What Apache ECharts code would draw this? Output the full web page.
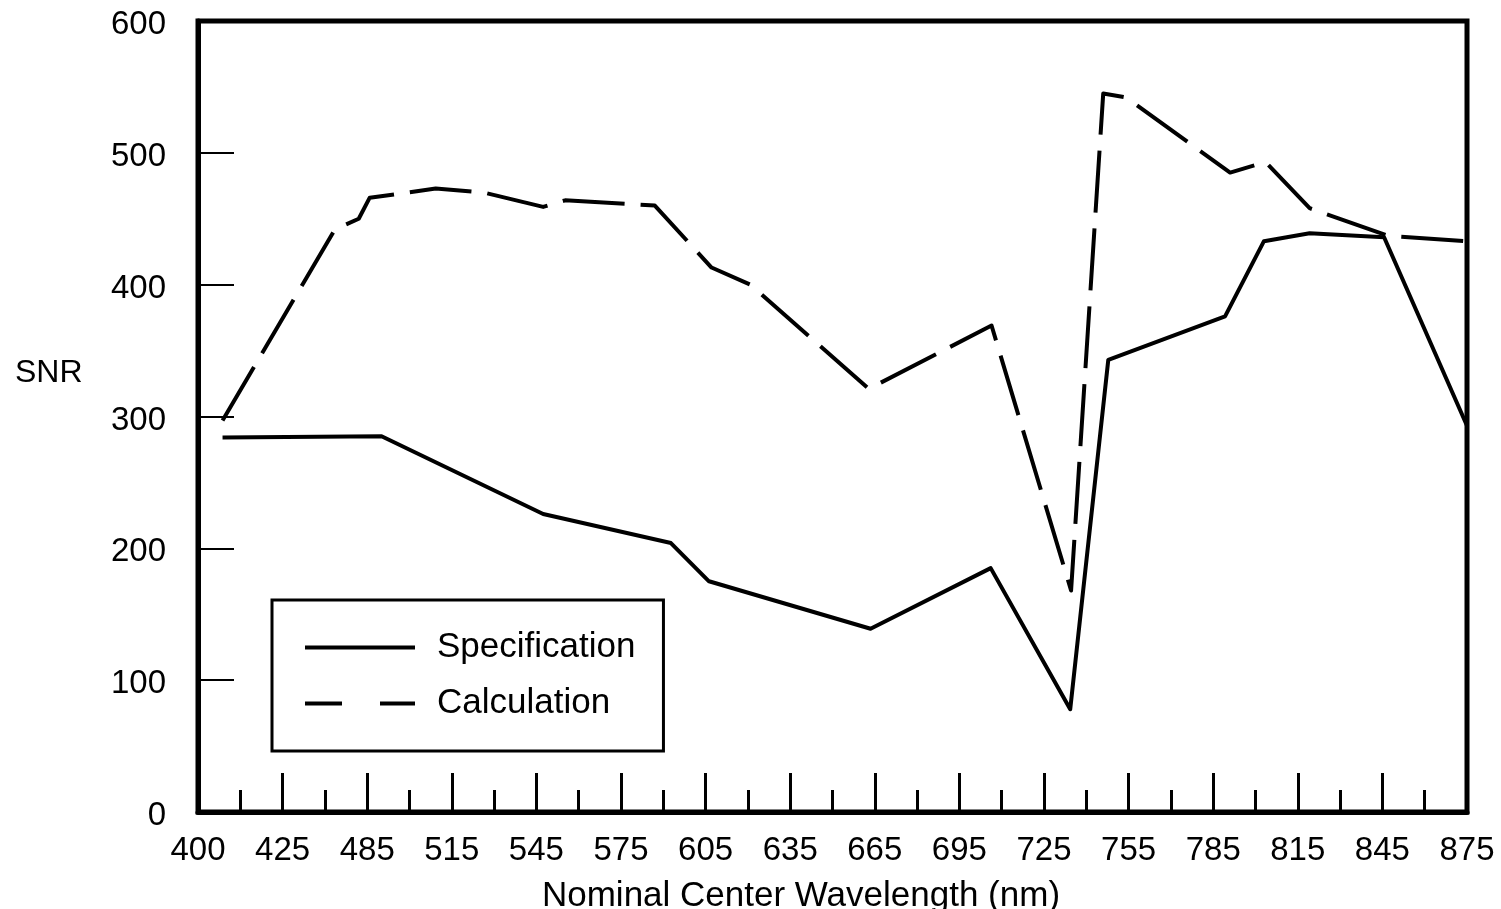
<!DOCTYPE html>
<html>
<head>
<meta charset="utf-8">
<title>SNR vs Nominal Center Wavelength</title>
<script src="https://cdn.jsdelivr.net/npm/echarts@6/dist/echarts.min.js"></script>
<style>
  html, body { margin: 0; padding: 0; background: #fff; }
  #chart { width: 1501px; height: 909px; }
</style>
</head>
<body>
<div id="chart"></div>
<script>
// Tick labels of the wavelength axis (nm); the ticks are evenly spaced.
const wavelengthTicks = ['400', '425', '485', '515', '545', '575', '605', '635',
                         '665', '695', '725', '755', '785', '815', '845', '875'];

// Positions along the tick scale (0 = "400" tick, 15 = "875" tick) and SNR values.
const specPos = [0.29, 2.17, 4.08, 5.59, 6.04, 7.95, 9.37, 10.31, 10.76, 12.14, 12.60, 13.14, 14.02, 15.0];
const specSNR = [284, 285, 226, 204, 175, 139, 185, 78, 343, 376, 433, 439, 436, 293];

const calcPos = [0.29, 1.62, 1.90, 2.03, 2.39, 2.81, 3.37, 4.08, 4.34, 5.40, 6.07, 6.53,
                 7.93, 9.38, 10.32, 10.70, 10.97, 12.20, 12.62, 13.14, 14.07, 15.0];
const calcSNR = [297, 442, 450, 466, 469, 473, 470, 459, 464, 460, 413, 400,
                 321, 369, 168, 545, 542, 485, 493, 458, 437, 433];

const snrTicks = [0, 100, 200, 300, 400, 500, 600];

const FONT = '"Liberation Sans", Arial, Helvetica, sans-serif';
const INK = '#000';
const CLEAR = 'rgba(0,0,0,0)';

const zip = (xs, ys) => xs.map((x, i) => [x, ys[i]]);

const chart = echarts.init(document.getElementById('chart'), null, { renderer: 'canvas' });

chart.setOption({
  animation: false,
  backgroundColor: '#fff',
  grid: {
    left: 198, top: 21, width: 1269, height: 791,
    show: true, borderColor: INK, borderWidth: 5,
    containLabel: false, outerBoundsMode: 'none'
  },
  xAxis: {
    type: 'value',
    min: 0, max: wavelengthTicks.length - 1, interval: 1,
    axisLine: { show: true, lineStyle: { color: INK, width: 5 } },
    axisTick: { show: true, inside: true, length: 39, lineStyle: { color: INK, width: 3 } },
    minorTick: { show: true, splitNumber: 2, length: 22, lineStyle: { color: INK, width: 3 } },
    splitLine: { show: false },
    minorSplitLine: { show: false },
    axisLabel: {
      show: true, margin: 22, color: INK, fontSize: 33, fontFamily: FONT,
      showMinLabel: true, showMaxLabel: true,
      formatter: v => wavelengthTicks[Math.round(v)] ?? ''
    }
  },
  yAxis: {
    type: 'value',
    min: snrTicks[0], max: snrTicks[snrTicks.length - 1], interval: 100,
    axisLine: { show: true, lineStyle: { color: INK, width: 5 } },
    axisTick: { show: true, inside: true, length: 36, lineStyle: { color: INK, width: 2 } },
    splitLine: { show: false },
    axisLabel: {
      show: true, margin: 32, color: INK, fontSize: 33, fontFamily: FONT,
      // labels sit slightly below their tick
      verticalAlign: 'top', lineHeight: 8
    }
  },
  legend: {
    orient: 'vertical',
    left: 272, top: 600,
    padding: [30, 28, 30, 31],
    itemWidth: 110, itemHeight: 20, itemGap: 21,
    // line-only keys: the marker dot is made fully transparent
    itemStyle: { color: CLEAR, borderColor: CLEAR, borderWidth: 0, opacity: 0 },
    borderColor: INK, borderWidth: 3, backgroundColor: '#fff',
    selectedMode: false,
    textStyle: { fontSize: 35, color: INK, fontFamily: FONT, padding: [0, 0, 0, 17] },
    data: [
      { name: 'Specification', lineStyle: { color: INK, width: 4, type: 'solid' } },
      { name: 'Calculation', lineStyle: { color: INK, width: 4, type: [37, 38] } }
    ]
  },
  graphic: [
    {
      type: 'text', x: 15, y: 373,
      style: { text: 'SNR', fill: INK, fontSize: 32, fontFamily: FONT, align: 'left', verticalAlign: 'middle' }
    },
    {
      type: 'text', x: 801, y: 896,
      style: { text: 'Nominal Center Wavelength (nm)', fill: INK, fontSize: 35, fontFamily: FONT,
               align: 'center', verticalAlign: 'middle' }
    }
  ],
  series: [
    {
      name: 'Specification',
      type: 'line',
      data: zip(specPos, specSNR),
      symbol: 'none',
      color: INK,
      lineStyle: { color: INK, width: 4, type: 'solid', join: 'round' },
      z: 3
    },
    {
      name: 'Calculation',
      type: 'line',
      data: zip(calcPos, calcSNR),
      symbol: 'none',
      color: INK,
      lineStyle: { color: INK, width: 4, type: [62, 16], join: 'round' },
      z: 3
    }
  ]
});
</script>
</body>
</html>
